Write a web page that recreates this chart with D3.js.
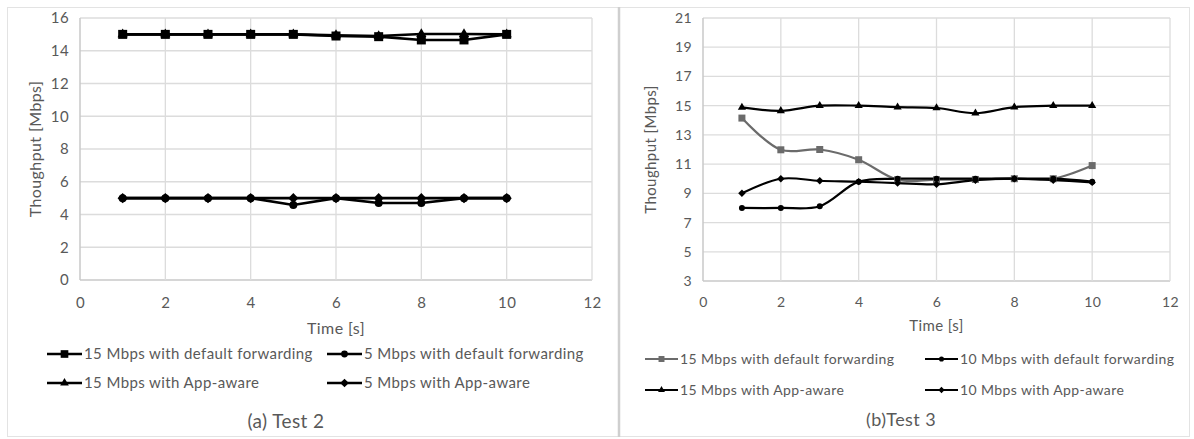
<!DOCTYPE html>
<html><head><meta charset="utf-8">
<script src="https://cdn.jsdelivr.net/npm/d3@7"></script>
<style>
body{margin:0;background:#fff;}
svg text{font-family:Lato,"Open Sans",sans-serif;letter-spacing:0.4px;}
</style></head><body>
<svg id="c" width="1194" height="439"></svg>
<script>
const time = [1,2,3,4,5,6,7,8,9,10];
// Test 2
const t2_15def = [15,15,15,15,15,14.9,14.86,14.66,14.66,15];
const t2_15app = [15,15,15,15,15,14.95,14.9,15.02,15.02,15];
const t2_5def  = [5,5,5,5,4.58,5,4.7,4.7,5,5];
const t2_5app  = [5,5,5,5,5,5,5,5,5,5];
// Test 3
const t3_15def = [14.15,11.98,12,11.3,9.93,9.93,9.95,10,10,10.9];
const t3_15app = [14.88,14.65,15,15,14.9,14.84,14.48,14.9,15,15];
const t3_10def = [8,8,8.12,9.8,10,10,10,10,10,9.8];
const t3_10app = [9,10,9.86,9.8,9.7,9.62,9.9,10,9.9,9.75];
const xTicks = [0,2,4,6,8,10,12];
const yTicks2 = [0,2,4,6,8,10,12,14,16];
const yTicks3 = [3,5,7,9,11,13,15,17,19,21];
const legend2 = ["15 Mbps with default forwarding","5 Mbps with default forwarding","15 Mbps with App-aware","5 Mbps with App-aware"];
const legend3 = ["15 Mbps with default forwarding","10 Mbps with default forwarding","15 Mbps with App-aware","10 Mbps with App-aware"];

const svg = d3.select("#c");
svg.append("rect").attr("x",7.5).attr("y",7.5).attr("width",1182).attr("height",429)
  .attr("fill","none").attr("stroke","#e3e3e3");
svg.append("line").attr("x1",619).attr("x2",619).attr("y1",7).attr("y2",437)
  .attr("stroke","#cfcfcf").attr("stroke-width",2.5);

const textCol = "#595959";

function marker(g, type, x, y, size, color){
  if(type==="square"){
    g.append("rect").attr("x",x-size/2).attr("y",y-size/2).attr("width",size).attr("height",size).attr("fill",color);
  } else {
    const sym = type==="circle"?d3.symbolCircle: type==="triangle"?d3.symbolTriangle: d3.symbolDiamond2;
    const area = type==="circle"? Math.PI*(size/2)*(size/2) : type==="triangle"? size*size*0.45 : size*size*0.55;
    g.append("path").attr("d",d3.symbol().type(sym).size(area)())
      .attr("transform",`translate(${x},${y})`).attr("fill",color);
  }
}

function chart(cfg){
  const x = d3.scaleLinear().domain([0,12]).range([cfg.x0,cfg.x1]);
  const y = d3.scaleLinear().domain(cfg.yDom).range([cfg.y0,cfg.y1]);
  const g = svg.append("g");
  g.selectAll(".hg").data(cfg.yTicks).enter().append("line")
    .attr("x1",x(0)).attr("x2",x(12)).attr("y1",d=>y(d)).attr("y2",d=>y(d))
    .attr("stroke",d=>d===cfg.yDom[0]?"#c8c8c8":"#dcdcdc").attr("stroke-width",d=>d===cfg.yDom[0]?1.5:1.3);
  g.selectAll(".vg").data(xTicks).enter().append("line")
    .attr("x1",d=>x(d)).attr("x2",d=>x(d)).attr("y1",y(cfg.yDom[0])).attr("y2",y(cfg.yDom[1]))
    .attr("stroke",d=>d===0?"#c8c8c8":"#dcdcdc").attr("stroke-width",d=>d===0?1.5:1.3);
  const ax = d3.axisBottom(x).tickValues(xTicks).tickSize(0).tickPadding(cfg.xPad);
  const axg = g.append("g").attr("transform",`translate(0,${y(cfg.yDom[0])})`).call(ax);
  axg.select(".domain").remove();
  axg.selectAll("text").attr("fill",textCol).attr("font-size",cfg.fs).attr("font-family","Lato");
  const ay = d3.axisLeft(y).tickValues(cfg.yTicks).tickSize(0).tickPadding(cfg.yPad);
  const ayg = g.append("g").attr("transform",`translate(${x(0)},0)`).call(ay);
  ayg.select(".domain").remove();
  ayg.selectAll("text").attr("fill",textCol).attr("font-size",cfg.fs).attr("font-family","Lato");
  g.append("text").attr("x",(cfg.x0+cfg.x1)/2).attr("y",cfg.xtY).attr("text-anchor","middle")
    .attr("fill",textCol).attr("font-size",cfg.tfs).text("Time [s]");
  g.append("text").attr("transform",`translate(${cfg.ytX},${(cfg.y0+cfg.y1)/2}) rotate(-90)`)
    .attr("text-anchor","middle").attr("fill",textCol).attr("font-size",cfg.tfs).text("Thoughput [Mbps]");
  const line = d3.line().x((d,i)=>x(time[i])).y(d=>y(d)).curve(cfg.curve);
  cfg.series.forEach(s=>{
    g.append("path").attr("d",line(s.v)).attr("fill","none").attr("stroke",s.color).attr("stroke-width",cfg.lw);
  });
  cfg.series.forEach(s=>{
    s.v.forEach((v,i)=>marker(g,s.m,x(time[i]),y(v),s.ms,s.color));
  });
  cfg.series.forEach((s,i)=>{
    const col = i%2, row = Math.floor(i/2);
    const lx = cfg.legX[col], ly = cfg.legY[row];
    g.append("line").attr("x1",lx).attr("x2",lx+cfg.legLen).attr("y1",ly).attr("y2",ly)
      .attr("stroke",s.color).attr("stroke-width",cfg.lw);
    marker(g,s.m,lx+cfg.legLen/2,ly,s.ms*cfg.legMs,s.color);
    g.append("text").attr("x",lx+cfg.legLen+2).attr("y",ly).attr("dy","0.35em")
      .attr("fill",textCol).attr("font-size",cfg.legFs).text(cfg.legend[i]);
  });
  g.append("text").attr("x",cfg.titleX).attr("y",cfg.titleY).attr("text-anchor","middle")
    .attr("fill",textCol).attr("font-size",cfg.titleFs).text(cfg.title);
}

chart({
  x0:80,x1:592,y0:280,y1:18,yDom:[0,16],yTicks:yTicks2,fs:15,tfs:16,xPad:17,yPad:11,
  xtY:334,ytX:41,lw:2.6,curve:d3.curveLinear,
  series:[
    {v:t2_15def,m:"square",ms:9,color:"#000"},
    {v:t2_5def,m:"circle",ms:8,color:"#000"},
    {v:t2_15app,m:"triangle",ms:10,color:"#000"},
    {v:t2_5app,m:"diamond",ms:11,color:"#000"}
  ],
  legend:legend2,legX:[47,327],legY:[354,383],legLen:35,legMs:0.85,legFs:15,
  title:"(a) Test 2",titleX:286,titleY:428,titleFs:19
});
chart({
  x0:703,x1:1170,y0:281,y1:18,yDom:[3,21],yTicks:yTicks3,fs:14,tfs:15,xPad:16,yPad:11,
  xtY:331,ytX:656,lw:2.2,curve:d3.curveCatmullRom.alpha(0.5),
  series:[
    {v:t3_15def,m:"square",ms:7,color:"#6b6b6b"},
    {v:t3_10def,m:"circle",ms:6,color:"#000"},
    {v:t3_15app,m:"triangle",ms:8,color:"#000"},
    {v:t3_10app,m:"diamond",ms:8,color:"#000"}
  ],
  legend:legend3,legX:[645,925],legY:[359,390],legLen:33,legMs:0.85,legFs:14,
  title:"(b)Test 3",titleX:901,titleY:426,titleFs:18
});
</script>
</body></html>
